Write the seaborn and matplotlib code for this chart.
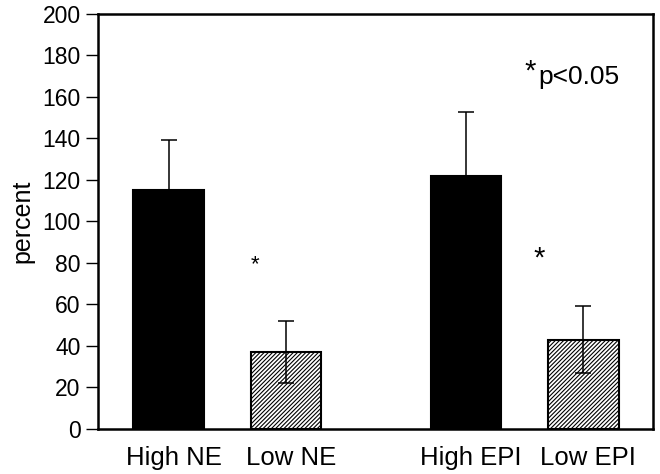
import numpy as np
import pandas as pd
import matplotlib
matplotlib.use("Agg")
import matplotlib.pyplot as plt
import matplotlib.transforms as mtransforms
import seaborn as sns

# ---- data ----
categories = ["High NE", "Low NE", "High EPI", "Low EPI"]
means = [115, 37, 122, 43]
errors = [24, 15, 30.5, 16]
levels = ["High", "Low", "High", "Low"]
y_ticks = [0, 20, 40, 60, 80, 100, 120, 140, 160, 180, 200]
sig_note = "p<0.05"

sns.set_theme(style="white")
plt.rcParams["font.family"] = ["Liberation Sans", "DejaVu Sans"]
plt.rcParams["text.color"] = "black"
plt.rcParams["axes.labelcolor"] = "black"
plt.rcParams["xtick.color"] = "black"
plt.rcParams["ytick.color"] = "black"
plt.rcParams["hatch.linewidth"] = 0.8
plt.rcParams["hatch.color"] = "black"

# layout: two groups of two bars
group_step = 2.53
positions = np.array([0, 1, group_step, group_step + 1])

df = pd.DataFrame({"pos": positions, "percent": means, "cat": categories, "level": levels})

fig = plt.figure(figsize=(6.6, 4.74), dpi=100)
ax = fig.add_axes([0.1485, 0.0949, 0.8405, 0.8766])

sns.barplot(data=df, x="pos", y="percent", native_scale=True, color="black",
            errorbar=None, width=0.6, ax=ax, saturation=1)

for patch, lvl in zip(ax.patches, levels):
    patch.set_edgecolor("black")
    patch.set_linewidth(1.5)
    if lvl == "Low":
        patch.set_facecolor("white")
        patch.set_hatch("////////")
    else:
        patch.set_facecolor("black")

ax.errorbar(positions, means, yerr=errors, fmt="none", ecolor="black",
            elinewidth=1.1, capsize=6, capthick=1.1, zorder=3)

ax.set_xlim(-0.6, 4.12)
ax.set_ylim(0, 200)
ax.set_yticks(y_ticks)
ax.tick_params(axis="y", labelsize=16.5, length=9, width=1, direction="out", left=True)
ax.set_xticks(positions)
ax.set_xticklabels(categories, fontsize=18.5)
ax.tick_params(axis="x", length=0, pad=12)
shift = mtransforms.ScaledTranslation(5 / 100, 0, fig.dpi_scale_trans)
for lbl in ax.get_xticklabels():
    lbl.set_transform(lbl.get_transform() + shift)
ax.set_xlabel("")
ax.set_ylabel("percent", fontsize=18, labelpad=6)

for s in ax.spines.values():
    s.set_visible(True)
    s.set_color("black")
    s.set_linewidth(1.8)

# significance markers
ax.text(0.74, 79, "*", fontsize=16, ha="center", va="center")
ax.text(3.15, 82, "*", fontsize=21, ha="center", va="center")
ax.text(3.08, 172, "*", fontsize=21, ha="center", va="center")
ax.text(3.15, 166, sig_note, fontsize=19, ha="left", va="baseline")

fig.savefig("out.png", dpi=100)
